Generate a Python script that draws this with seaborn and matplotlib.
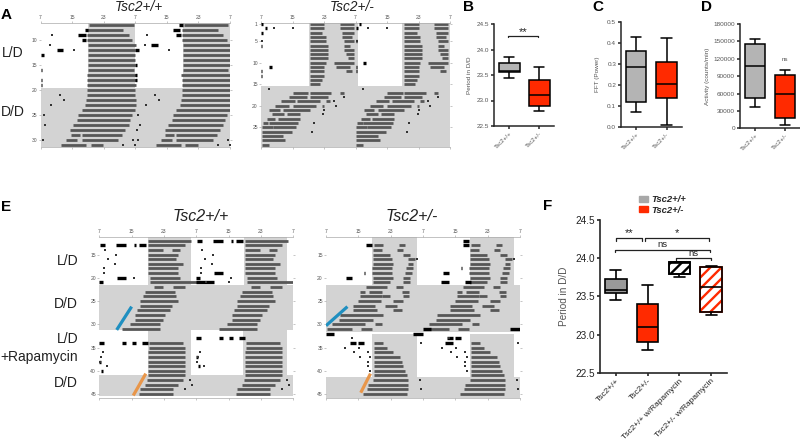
import numpy as np
import pandas as pd
import matplotlib
matplotlib.use("Agg")
import matplotlib.pyplot as plt
from matplotlib.patches import Patch, PathPatch
import seaborn as sns

# box values: min, q1, median, q3, max
groups_two = ["Tsc2+/+", "Tsc2+/-"]
period_wt = [23.45, 23.55, 23.58, 23.73, 23.85]
period_het = [22.8, 22.9, 23.1, 23.4, 23.65]
fft_wt = [0.07, 0.12, 0.285, 0.36, 0.43]
fft_het = [0.01, 0.14, 0.205, 0.31, 0.425]
activity_wt = [37000, 52000, 107000, 145000, 154000]
activity_het = [5000, 17000, 60000, 92000, 100000]
groups_four = ["Tsc2+/+", "Tsc2+/-", "Tsc2+/+ w/Rapamycin", "Tsc2+/- w/Rapamycin"]
period_wt_rapa = [23.75, 23.79, 23.94, 23.95, 23.95]
period_het_rapa = [23.25, 23.29, 23.62, 23.89, 23.9]

hour_labels = ["7", "15", "23", "7", "15", "23", "7"]

# actogram bouts, hours after 7 o'clock, one entry per bout
a_wt_days = list(range(7, 32)) + [29, 30, 31]
a_wt_on = [12.4, 11.9, 11.9, 11.9, 12.1, 12.1, 12.1, 12.1, 12.1, 12.1, 11.7, 11.9, 11.9,
           11.9, 11.9, 11.5, 11.3, 10.4, 9.6, 9.3, 8.3, 7.5, 10.4, 10.4, 12.7, 7.6, 6.4, 5.2]
a_wt_off = [23.6, 21.0, 22.3, 23.2, 24.3, 24.0, 24.0, 24.0, 24.0, 23.6, 24.3, 24.3, 24.3,
            24.0, 24.0, 24.3, 24.3, 24.0, 23.2, 22.7, 22.3, 21.5, 20.6, 19.7, 15.9, 9.9, 9.3, 11.5]
a_wt_black_day = [8, 9, 10, 12, 13, 16, 18, 19]
a_wt_black_on = [11.2, 9.5, 10.4, 4.1, 0.0, 0.0, 0.0, 0.0]
a_wt_black_off = [12.1, 11.4, 11.6, 5.8, 0.9, 0.5, 0.5, 0.5]
a_wt_speck_day = [9, 11, 12, 21, 22, 23, 25, 27, 30, 31, 31, 28, 30]
a_wt_speck_hour = [3.0, 2.5, 8.5, 5.0, 6.0, 2.7, 0.8, 1.2, 0.7, 21.0, 24.0, 24.5, 23.5]

a_het_days = list(range(1, 16)) + list(range(1, 13)) + list(range(17, 30)) + list(range(17, 26)) + [17, 19, 20]
a_het_on = [12.4] * 15 + [20.0, 20.0, 20.5, 20.5, 21.0, 21.0, 21.0, 21.5, 22.0, 18.5, 19.0, 21.5] + \
           [8.0, 7.2, 5.2, 3.6, 2.1, 2.7, 1.4, 0.5, 0.2, 0.2, 0.2, 0.2, 0.2] + \
           [12.4, 12.4, 9.2, 8.0, 5.7, 6.5, 4.2, 2.0, 3.0] + [20.0, 16.5, 15.5]
a_het_off = [16.0, 16.0, 15.5, 16.5, 16.5, 17.0, 17.0, 17.0, 17.0, 16.5, 16.0, 16.0, 16.0, 15.5, 15.0] + \
            [23.5, 23.6, 23.5, 23.0, 23.6, 22.5, 23.5, 23.6, 23.6, 23.6, 22.5, 23.0] + \
            [12.0, 11.6, 8.6, 7.0, 4.7, 5.8, 3.6, 1.8, 3.0, 7.8, 5.7, 6.1, 2.0] + \
            [17.9, 17.0, 14.9, 14.0, 12.4, 9.9, 9.9, 9.5, 9.0] + [21.0, 17.5, 16.0]
a_het_black_day = [1, 2, 3, 6, 11, 12, 13]
a_het_black_on = [0.0, 1.0, 0.0, 0.0, 2.0, 0.0, 0.0]
a_het_black_off = [0.4, 1.5, 0.6, 0.3, 2.7, 0.3, 0.3]
a_het_speck_day = [2, 2, 5, 16, 19, 21, 22, 24, 26, 20, 18]
a_het_speck_hour = [3.3, 8.0, 0.3, 2.0, 18.5, 16.0, 15.8, 13.5, 13.0, 19.0, 21.0]

e_wt_days = list(range(12, 32)) + list(range(34, 46)) + [14, 22]
e_wt_on = [12.1, 12.1, 12.1, 12.1, 12.1, 12.1, 12.1, 12.1, 12.5, 12.5,
           13.5, 11.3, 10.9, 10.1, 10.1, 9.4, 8.8, 8.8, 7.6, 5.5,
           12.3, 12.3, 12.1, 12.1, 12.1, 12.1, 12.1, 12.1, 11.7, 11.3, 10.1, 9.7,
           17.9, 18.2]
e_wt_off = [22.8, 21.2, 15.8, 19.5, 19.1, 20.6, 19.5, 19.5, 20.0, 24.1,
            15.8, 18.7, 19.1, 19.5, 17.9, 17.5, 16.2, 15.8, 15.0, 15.0,
            20.8, 21.2, 21.2, 21.2, 21.2, 21.2, 21.2, 21.2, 20.8, 19.5, 18.3, 18.3,
            20.0, 21.2]
e_wt_black_day = [13, 13, 13, 13, 20, 21, 21, 34, 34, 34, 34, 38, 40]
e_wt_black_on = [0.2, 4.2, 8.5, 9.8, 4.5, 0.0, 24.0, 0.0, 5.5, 10.5, 8.0, 0.0, 0.5]
e_wt_black_off = [1.5, 6.5, 9.0, 11.5, 6.5, 1.0, 28.5, 1.2, 6.5, 12.0, 9.0, 0.3, 0.8]
e_wt_speck_day = [14, 15, 16, 17, 18, 19, 20, 36, 37, 38, 39, 42, 43, 44, 21, 21]
e_wt_speck_hour = [1.5, 4.2, 2.2, 4.0, 1.2, 1.2, 8.5, 0.8, 0.3, 0.2, 1.8, 22.5, 23.0, 21.2, 26.5, 32.0]

e_het_days = list(range(13, 22)) + list(range(13, 22)) + list(range(22, 32)) + [22, 23, 23, 24, 24, 25, 26, 27, 30, 31] + list(range(34, 46))
e_het_on = [11.9, 11.7, 11.7, 11.7, 11.7, 11.5, 11.5, 11.7, 11.7,
            18.0, 17.5, 19.0, 20.4, 20.4, 19.8, 19.5, 19.1, 19.1,
            9.9, 8.3, 8.4, 8.0, 6.8, 6.8, 3.5, 3.1, 1.4, 0.2,
            17.3, 10.6, 18.7, 13.8, 19.1, 16.7, 14.6, 16.7, 12.1, 8.6,
            11.9, 11.9, 11.9, 11.9, 11.9, 11.9, 11.9, 11.9, 11.7, 10.5, 10.1, 9.1]
e_het_off = [14.0, 13.8, 15.8, 16.3, 16.7, 16.3, 16.3, 16.7, 15.8,
             19.5, 19.1, 20.8, 22.0, 21.6, 21.5, 21.2, 20.8, 20.8,
             15.2, 9.7, 13.8, 13.5, 12.1, 12.5, 14.2, 11.7, 9.6, 6.4,
             19.1, 13.8, 20.6, 15.8, 20.6, 19.1, 17.5, 18.7, 13.8, 11.5,
             14.2, 15.0, 16.7, 18.3, 18.7, 19.1, 19.5, 20.0, 20.4, 20.4, 20.4, 20.0]
e_het_black_day = [13, 13, 19, 20, 21, 21, 32, 34, 34, 34, 32]
e_het_black_on = [9.8, 33.8, 9.3, 5.0, 28.5, 34.5, 0.0, 6.0, 8.0, 29.5, 21.5]
e_het_black_off = [11.5, 35.5, 9.6, 6.5, 30.5, 36.0, 1.9, 7.5, 9.5, 31.5, 24.0]
e_het_speck_day = [33, 35, 35, 36, 36, 37, 37, 38, 39, 40, 42, 44, 16, 34]
e_het_speck_hour = [6.5, 4.8, 8.2, 7.0, 10.5, 8.5, 11.0, 10.3, 10.5, 11.0, 23.2, 23.5, 22.5, 23.5]

sns.set_theme(style="ticks")
plt.rcParams["font.family"] = ["Liberation Sans", "DejaVu Sans"]
plt.rcParams["hatch.linewidth"] = 1.7

FIG_W, FIG_H = 800, 442
fig = plt.figure(figsize=(8, 4.42), dpi=100)
BAR_GRAY = "#575757"
SHADE = "#d3d3d3"
TICK_GRAY = "#555555"


def px_axes(x0, y0, x1, y1):
    return fig.add_axes([x0 / FIG_W, 1 - y1 / FIG_H, (x1 - x0) / FIG_W, (y1 - y0) / FIG_H])


def px_text(x, y, s, **kw):
    kw.setdefault("ha", "center")
    kw.setdefault("va", "center")
    fig.text(x / FIG_W, 1 - y / FIG_H, s, **kw)


def actogram(rect, ylim, yticks, xmax_hour, shades, days, on, off, black, specks, bar_lw):
    ax = px_axes(*rect)
    ax.set_xlim(0, xmax_hour)
    ax.set_ylim(ylim[1], ylim[0])
    for top, bottom, left, right in shades:
        ax.fill_between([left, right], top, bottom, color=SHADE, lw=0, zorder=0)
    days = np.array(days)
    on = np.array(on)
    off = np.array(off)
    ax.hlines(days, on, off, color=BAR_GRAY, lw=bar_lw, zorder=2)
    ax.hlines(days, on + 24, np.minimum(off + 24, xmax_hour), color=BAR_GRAY, lw=bar_lw, zorder=2)
    b_day, b_on, b_off = [np.array(v) for v in black]
    ax.hlines(b_day, b_on, b_off, color="black", lw=bar_lw * 1.2, zorder=3)
    left_part = b_off <= 24
    ax.hlines(b_day[left_part] - 1, b_on[left_part] + 24, b_off[left_part] + 24,
              color="black", lw=bar_lw * 1.2, zorder=3)
    sp = pd.DataFrame({"hour": specks[1], "day": specks[0]})
    sp2 = pd.DataFrame({"hour": np.array(specks[1]) + 24, "day": specks[0]})
    sp = pd.concat([sp, sp2])
    sp = sp[sp["hour"] <= xmax_hour]
    sns.scatterplot(data=sp, x="hour", y="day", ax=ax, color="#333333", marker="s", s=2.5,
                    linewidth=0, legend=False, zorder=3)
    ax.set_xlabel("")
    ax.set_ylabel("")
    ax.set_xticks(np.arange(0, 49, 8))
    ax.set_xticklabels(hour_labels)
    ax.set_yticks(yticks)
    ax.tick_params(axis="x", top=True, labeltop=True, bottom=True, labelbottom=False, length=1.5,
                   width=0.4, labelsize=3.6, pad=0.8, color="#999999", labelcolor=TICK_GRAY)
    ax.tick_params(axis="y", left=True, right=True, length=1.5, width=0.4, labelsize=3.6, pad=0.8,
                   color="#999999", labelcolor=TICK_GRAY)
    for side in ax.spines.values():
        side.set_linewidth(0.5)
        side.set_color("#aaaaaa")
    ax.spines["left"].set_visible(False)
    ax.spines["right"].set_visible(False)
    return ax


def box_panel(rect, values, labels, ylim, yticks, ylabel, label_x, colors, ticksize=4.6, rot_size=4.4, lw=1.1):
    ax = px_axes(*rect)
    df = pd.DataFrame({
        "group": [g for g, v in zip(labels, values) for _ in v],
        "value": [x for v in values for x in v],
    })
    sns.boxplot(data=df, x="group", y="value", hue="group", palette=colors, dodge=False,
                width=0.68, whis=100, saturation=1, linecolor="black", linewidth=lw,
                fliersize=0, legend=False, ax=ax)
    ax.set_xlim(-0.5, len(labels) - 0.5)
    ax.set_ylim(*ylim)
    ax.set_yticks(yticks)
    ax.set_xlabel("")
    ax.set_ylabel("")
    ax.set_xticks(range(len(labels)))
    ax.set_xticklabels(labels, rotation=45, ha="right", rotation_mode="anchor", fontsize=rot_size, color=TICK_GRAY)
    ax.tick_params(axis="y", labelsize=ticksize, length=2.5, width=lw, pad=1, labelcolor=TICK_GRAY)
    ax.tick_params(axis="x", length=2, width=lw, pad=1.5)
    sns.despine(ax=ax)
    ax.spines["left"].set_linewidth(lw)
    ax.spines["bottom"].set_linewidth(lw)
    ax.patch.set_alpha(0)
    px_text(label_x, (rect[1] + rect[3]) / 2, ylabel, rotation=90, fontsize=ticksize, color=TICK_GRAY)
    return ax


def bracket(ax, x0, x1, y, drop, label=None, label_dy=0.0, size=7, lw=0.9):
    ax.plot([x0, x0, x1, x1], [y - drop, y, y, y - drop], color="#222222", lw=lw, clip_on=False)
    if label:
        ax.text((x0 + x1) / 2, y + label_dy, label, ha="center", va="center", fontsize=size, color="#222222")


# panel A actograms
actogram((40.5, 22.7, 230, 146.7), (6.54, 31.3), [10, 15, 20, 25, 30], 48,
         [(6.54, 19.5, 12.0, 24.0), (6.54, 19.5, 36.0, 48.0), (19.5, 31.3, 0, 48)],
         a_wt_days, a_wt_on, a_wt_off, (a_wt_black_day, a_wt_black_on, a_wt_black_off),
         (a_wt_speck_day, a_wt_speck_hour), 2.0)
actogram((261, 22.7, 450, 146.7), (0.7, 29.5), [1, 5, 10, 15, 20, 25], 48,
         [(0.7, 15.4, 12.3, 24.7), (0.7, 15.4, 35.8, 48.0), (15.4, 29.5, 0, 48)],
         a_het_days, a_het_on, a_het_off, (a_het_black_day, a_het_black_on, a_het_black_off),
         (a_het_speck_day, a_het_speck_hour), 2.0)

# panel E actograms
ax_e1 = actogram((99.3, 237.3, 293.3, 398.3), (11.3, 45.9), [15, 20, 25, 30, 35, 40, 45], 48,
                 [(11.3, 21.5, 12.0, 22.8), (11.3, 21.5, 35.8, 46.5), (21.5, 31.2, 0, 48),
                  (31.2, 41.0, 12.0, 22.8), (31.2, 41.0, 35.6, 46.5), (41.0, 45.3, 0, 48)],
                 e_wt_days, e_wt_on, e_wt_off, (e_wt_black_day, e_wt_black_on, e_wt_black_off),
                 (e_wt_speck_day, e_wt_speck_hour), 2.0)
ax_e1.plot([4.3, 8.0], [31.2, 26.2], color="#1f8fc0", lw=2.3, solid_capstyle="butt", zorder=5)
ax_e1.plot([8.4, 11.5], [45.3, 40.6], color="#e8964a", lw=2.3, solid_capstyle="butt", zorder=5)

ax_e2 = actogram((326, 237.3, 520, 398.3), (11.3, 45.9), [15, 20, 25, 30, 35, 40, 45], 48,
                 [(11.3, 21.6, 11.5, 22.4), (11.3, 21.6, 35.6, 46.5), (21.6, 31.6, 0, 48),
                  (32.0, 41.3, 11.5, 22.4), (32.0, 41.3, 35.6, 46.5), (41.3, 45.9, 0, 48)],
                 e_het_days, e_het_on, e_het_off, (e_het_black_day, e_het_black_on, e_het_black_off),
                 (e_het_speck_day, e_het_speck_hour), 2.0)
ax_e2.plot([0.0, 5.3], [30.3, 26.2], color="#1f8fc0", lw=2.3, solid_capstyle="butt", zorder=5)
ax_e2.plot([8.6, 11.0], [44.7, 40.6], color="#e8964a", lw=2.3, solid_capstyle="butt", zorder=5)

# boxes
GRAY = "#b4b4b4"
RED = "#ff2a00"
ax_b = box_panel((494.3, 24, 554.3, 126), [period_wt, period_het], groups_two, (22.5, 24.5),
                 [22.5, 23.0, 23.5, 24.0, 24.5], "Period in D/D", 469, [GRAY, RED])
ax_b.set_yticklabels(["22.5", "23.0", "23.5", "24.0", "24.5"])
bracket(ax_b, -0.05, 0.97, 24.27, 0.03, "**", 0.07, size=8)

ax_c = box_panel((621, 22, 681.7, 127), [fft_wt, fft_het], groups_two, (0, 0.5),
                 [0, 0.1, 0.2, 0.3, 0.4, 0.5], "FFT (Power)", 598, [GRAY, RED])
ax_c.set_yticklabels(["0.0", "0.1", "0.2", "0.3", "0.4", "0.5"])

ax_d = box_panel((740, 24, 800, 128.3), [activity_wt, activity_het], groups_two, (0, 180000),
                 [0, 30000, 60000, 90000, 120000, 150000, 180000], "Activity (counts/min)", 708, [GRAY, RED])
ax_d.set_yticklabels(["0", "30000", "60000", "90000", "120000", "150000", "180000"])
ax_d.text(1, 119000, "ns", ha="center", va="center", fontsize=4.5, color=TICK_GRAY)

ax_f = box_panel((600, 220, 727, 372.7), [period_wt, period_het, period_wt_rapa, period_het_rapa], groups_four,
                 (22.5, 24.5), [22.5, 23.0, 23.5, 24.0, 24.5], "Period in D/D", 564,
                 ["#999999", RED, "white", "white"], ticksize=7.2, rot_size=6.0, lw=1.2)
ax_f.set_yticklabels(["22.5", "23.0", "23.5", "24.0", "24.5"], color="#222222")
for label in ax_f.get_xticklabels():
    label.set_color("#222222")

# hatched boxes keep a black outline on top of the coloured stripes
for patch, stripe in zip(list(ax_f.patches)[2:], ["black", RED]):
    patch.set_hatch("///")
    patch.set_edgecolor(stripe)
    ax_f.add_patch(PathPatch(patch.get_path(), transform=patch.get_transform(), fill=False,
                             edgecolor="black", lw=1.2, zorder=patch.get_zorder() + 0.1))

bracket(ax_f, 0.0, 0.83, 24.26, 0.03, "**", 0.07, size=8)
bracket(ax_f, 0.93, 2.93, 24.26, 0.03, "*", 0.07, size=8)
bracket(ax_f, -0.04, 2.95, 24.105, 0.03, "ns", 0.07, size=6.8)
bracket(ax_f, 1.9, 3.0, 24.0, 0.03, "ns", 0.06, size=6.8)

handles = [Patch(facecolor="#a8a8a8", edgecolor="#a8a8a8"), Patch(facecolor=RED, edgecolor=RED)]
fig.legend(handles, ["Tsc2+/+", "Tsc2+/-"], loc="center left", bbox_to_anchor=(632 / FIG_W, 1 - 205 / FIG_H),
           frameon=False, prop={"size": 6.8, "style": "italic", "weight": "bold"}, handlelength=1.0, handleheight=0.6,
           labelspacing=0.15, handletextpad=0.35, borderpad=0.2)

# titles and row labels
px_text(139, 7, "Tsc2+/+", fontsize=9.8, style="italic", color="#222222")
px_text(352, 7, "Tsc2+/-", fontsize=9.8, style="italic", color="#222222")
px_text(201, 216, "Tsc2+/+", fontsize=11.5, style="italic", color="#222222")
px_text(412, 216, "Tsc2+/-", fontsize=11.5, style="italic", color="#222222")
for x, y, s, size in [(13, 53, "L/D", 10), (13, 112, "D/D", 10), (68, 260.7, "L/D", 10), (66, 304, "D/D", 10),
                      (68, 339, "L/D", 10)]:
    px_text(x, y, s, fontsize=size, color="#222222")
px_text(78, 357, "+Rapamycin", fontsize=10, ha="right", color="#222222")
px_text(78, 383, "D/D", fontsize=10, ha="right", color="#222222")
for x, y, s in [(6, 15, "A"), (468, 7, "B"), (598, 7, "C"), (707, 7, "D"), (6, 207, "E"), (548, 206, "F")]:
    px_text(x, y, s, fontsize=11, weight="bold", color="black")

fig.savefig("out.png", dpi=100)
